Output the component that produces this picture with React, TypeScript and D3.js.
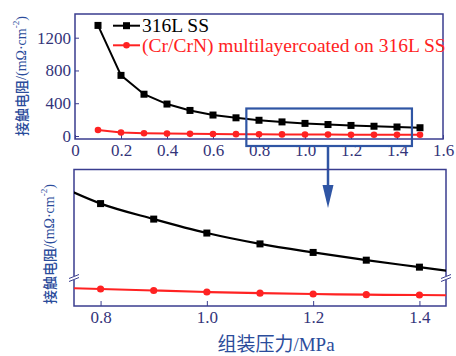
import React, {useEffect, useRef} from 'react'
import * as d3 from 'd3'

// assembly pressure (MPa)
const pressure = [0.1, 0.2, 0.3, 0.4, 0.5, 0.6, 0.7, 0.8, 0.9, 1.0, 1.1, 1.2, 1.3, 1.4, 1.5]
// contact resistance, mΩ·cm^-2
const ss316 = [1350, 740, 510, 390, 312, 256, 222, 192, 172, 154, 140, 129, 119, 110, 101]
const coated = [73, 43, 34, 29, 26, 24, 22.5, 21, 19.5, 18, 16.8, 16, 15.3, 15, 14.5]

const topXTicks = [0, 0.2, 0.4, 0.6, 0.8, 1.0, 1.2, 1.4, 1.6]
const topYTicks = [0, 400, 800, 1200]
const zoomXTicks = [0.8, 1.0, 1.2, 1.4]

const seriesNames = ['316L SS', '(Cr/CrN) multilayercoated on 316L SS']

const App = () => {
  const ref = useRef<SVGSVGElement>(null)

  useEffect(() => {
    const svg = d3.select(ref.current)
    svg.selectAll('*').remove()

    const frame = '#3a3d8f'
    const tickColor = '#34347a'
    const titleColor = '#2b4c9b'
    const red = '#ff2222'
    const serif = 'Liberation Serif, serif'
    const cjk = 'Noto Sans CJK SC, sans-serif'

    const data = pressure.map((p, i) => ({p, a: ss316[i], b: coated[i]}))

    const styleAxis = (g: any, size: number) => {
      g.attr('font-family', null).attr('font-size', null)
      g.select('.domain').remove()
      g.selectAll('line').attr('stroke', frame)
      g.selectAll('text').attr('fill', tickColor)
        .style('font-family', serif).style('font-size', size + 'px')
    }

    // ---------- top panel ----------
    const tp = {left: 75, right: 443, top: 14, bottom: 139}
    const x = d3.scaleLinear().domain([0, 1.6]).range([75, 443])
    const y = d3.scaleLinear().domain([0, 1200]).range([136, 37.7])

    const top = svg.append('g')

    top.append('rect')
      .attr('x', tp.left).attr('y', tp.top)
      .attr('width', tp.right - tp.left).attr('height', tp.bottom - tp.top)
      .attr('fill', 'none').attr('stroke', frame).attr('stroke-width', 1.5)

    top.append('g')
      .attr('transform', `translate(0,${tp.bottom})`)
      .call(d3.axisBottom(x).tickValues(topXTicks).tickSize(-4).tickPadding(5)
        .tickFormat(d => +d === 0 ? '0' : (+d).toFixed(1)))
      .call(g => styleAxis(g, 17))

    top.append('g')
      .attr('transform', `translate(${tp.left},0)`)
      .call(d3.axisLeft(y).tickValues(topYTicks).tickSize(-4).tickPadding(4)
        .tickFormat(d => String(d)))
      .call(g => styleAxis(g, 17))

    const lineA = d3.line<any>().x(d => x(d.p)).y(d => y(d.a))
    const lineB = d3.line<any>().x(d => x(d.p)).y(d => y(d.b))

    top.append('path').datum(data).attr('d', lineB)
      .attr('fill', 'none').attr('stroke', red).attr('stroke-width', 2)
    top.append('path').datum(data).attr('d', lineA)
      .attr('fill', 'none').attr('stroke', '#000').attr('stroke-width', 2)

    top.selectAll('.ma').data(data).join('rect')
      .attr('x', d => x(d.p) - 3.5).attr('y', d => y(d.a) - 3.5)
      .attr('width', 7).attr('height', 7).attr('fill', '#000')
    top.selectAll('.mb').data(data).join('circle')
      .attr('cx', d => x(d.p)).attr('cy', d => y(d.b))
      .attr('r', 3.3).attr('fill', red)

    // legend
    const lg = top.append('g')
    const legendRows = [
      {name: seriesNames[0], color: '#000', y: 25.7, square: true},
      {name: seriesNames[1], color: red, y: 45.3, square: false},
    ]
    legendRows.forEach(r => {
      lg.append('line').attr('x1', 113).attr('x2', 140).attr('y1', r.y).attr('y2', r.y)
        .attr('stroke', r.color).attr('stroke-width', 2)
      if (r.square) {
        lg.append('rect').attr('x', 123).attr('y', r.y - 3.5).attr('width', 7).attr('height', 7).attr('fill', r.color)
      } else {
        lg.append('circle').attr('cx', 126.5).attr('cy', r.y).attr('r', 3.3).attr('fill', r.color)
      }
      lg.append('text').attr('x', 142).attr('y', r.y + 6.5)
        .style('font-family', serif).style('font-size', '19.5px').attr('fill', r.color)
        .text(r.name)
    })

    // zoom box + arrow
    top.append('rect')
      .attr('x', x(0.745)).attr('y', 108.5)
      .attr('width', x(1.465) - x(0.745)).attr('height', 37.5)
      .attr('fill', 'none').attr('stroke', '#2f55a4').attr('stroke-width', 2.2)
    svg.append('line')
      .attr('x1', 328).attr('x2', 328).attr('y1', 146).attr('y2', 190)
      .attr('stroke', '#2f55a4').attr('stroke-width', 2.5)
    svg.append('path')
      .attr('d', 'M322.5,185 L333.5,185 L328,208 Z')
      .attr('fill', '#2f55a4')

    // y title helper
    const yTitle = (cx: number, cy: number) => {
      const t = svg.append('text')
        .attr('transform', `translate(${cx},${cy}) rotate(-90)`)
        .attr('text-anchor', 'middle').attr('dominant-baseline', 'central')
        .attr('fill', titleColor).style('font-size', '14px')
      t.append('tspan').style('font-family', cjk).style('font-weight', '500').text('接触电阻')
      t.append('tspan').style('font-family', serif).text('/(mΩ·cm')
      t.append('tspan').style('font-family', serif).style('font-size', '9px').attr('dy', -5).text('-2')
      t.append('tspan').style('font-family', serif).attr('dy', 5).text(')')
    }
    yTitle(21, 76)

    // ---------- zoomed panel ----------
    const bp = {left: 74, right: 446, top: 169.5, bottom: 306}
    const x2 = d3.scaleLinear().domain([0.75, 1.45]).range([bp.left, bp.right])
    const yHi = d3.scaleLinear().domain([96, 236]).range([278, bp.top])
    const yLo = d3.scaleLinear().domain([4, 32]).range([bp.bottom, 278])

    const bot = svg.append('g')
    svg.append('clipPath').attr('id', 'zclip').append('rect')
      .attr('x', bp.left).attr('y', bp.top).attr('width', bp.right - bp.left).attr('height', bp.bottom - bp.top)

    bot.append('rect')
      .attr('x', bp.left).attr('y', bp.top)
      .attr('width', bp.right - bp.left).attr('height', bp.bottom - bp.top)
      .attr('fill', 'none').attr('stroke', frame).attr('stroke-width', 1.5)

    bot.append('g')
      .attr('transform', `translate(0,${bp.bottom})`)
      .call(d3.axisBottom(x2).tickValues(zoomXTicks).tickSize(-5).tickPadding(5)
        .tickFormat(d => (+d).toFixed(1)))
      .call(g => styleAxis(g, 17))

    const clipped = bot.append('g').attr('clip-path', 'url(#zclip)')
    clipped.append('path').datum(data)
      .attr('d', d3.line<any>().curve(d3.curveMonotoneX).x(d => x2(d.p)).y(d => yHi(d.a)))
      .attr('fill', 'none').attr('stroke', '#000').attr('stroke-width', 2.2)
    clipped.append('path').datum(data)
      .attr('d', d3.line<any>().curve(d3.curveMonotoneX).x(d => x2(d.p)).y(d => yLo(d.b)))
      .attr('fill', 'none').attr('stroke', red).attr('stroke-width', 2.2)

    const inZoom = data.filter(d => d.p >= 0.75 && d.p <= 1.45)
    clipped.selectAll('.za').data(inZoom).join('rect')
      .attr('x', d => x2(d.p) - 3.5).attr('y', d => yHi(d.a) - 3.5)
      .attr('width', 7).attr('height', 7).attr('fill', '#000')
    clipped.selectAll('.zb').data(inZoom).join('circle')
      .attr('cx', d => x2(d.p)).attr('cy', d => yLo(d.b))
      .attr('r', 3.6).attr('fill', red)

    // axis break marks
    ;[bp.left, bp.right].forEach(bx => {
      bot.append('rect').attr('x', bx - 5).attr('y', 276).attr('width', 10).attr('height', 4).attr('fill', '#fff')
      ;[-1.5, 1.5].forEach(o => {
        bot.append('line')
          .attr('x1', bx - 5).attr('y1', 280 + o).attr('x2', bx + 5).attr('y2', 276 + o)
          .attr('stroke', frame).attr('stroke-width', 1)
      })
    })

    yTitle(49, 244)

    svg.append('text')
      .attr('x', 276).attr('y', 351)
      .attr('text-anchor', 'middle').attr('fill', titleColor).style('font-size', '19px')
      .call(t => t.append('tspan').style('font-family', cjk).text('组装压力'))
      .call(t => t.append('tspan').style('font-family', serif).text('/MPa'))
  }, [])

  return <div style={{position: 'fixed', left: 0, top: 0, width: 456, height: 356, background: '#fff'}}>
    <svg ref={ref} width={456} height={356} />
  </div>
}

export default App
